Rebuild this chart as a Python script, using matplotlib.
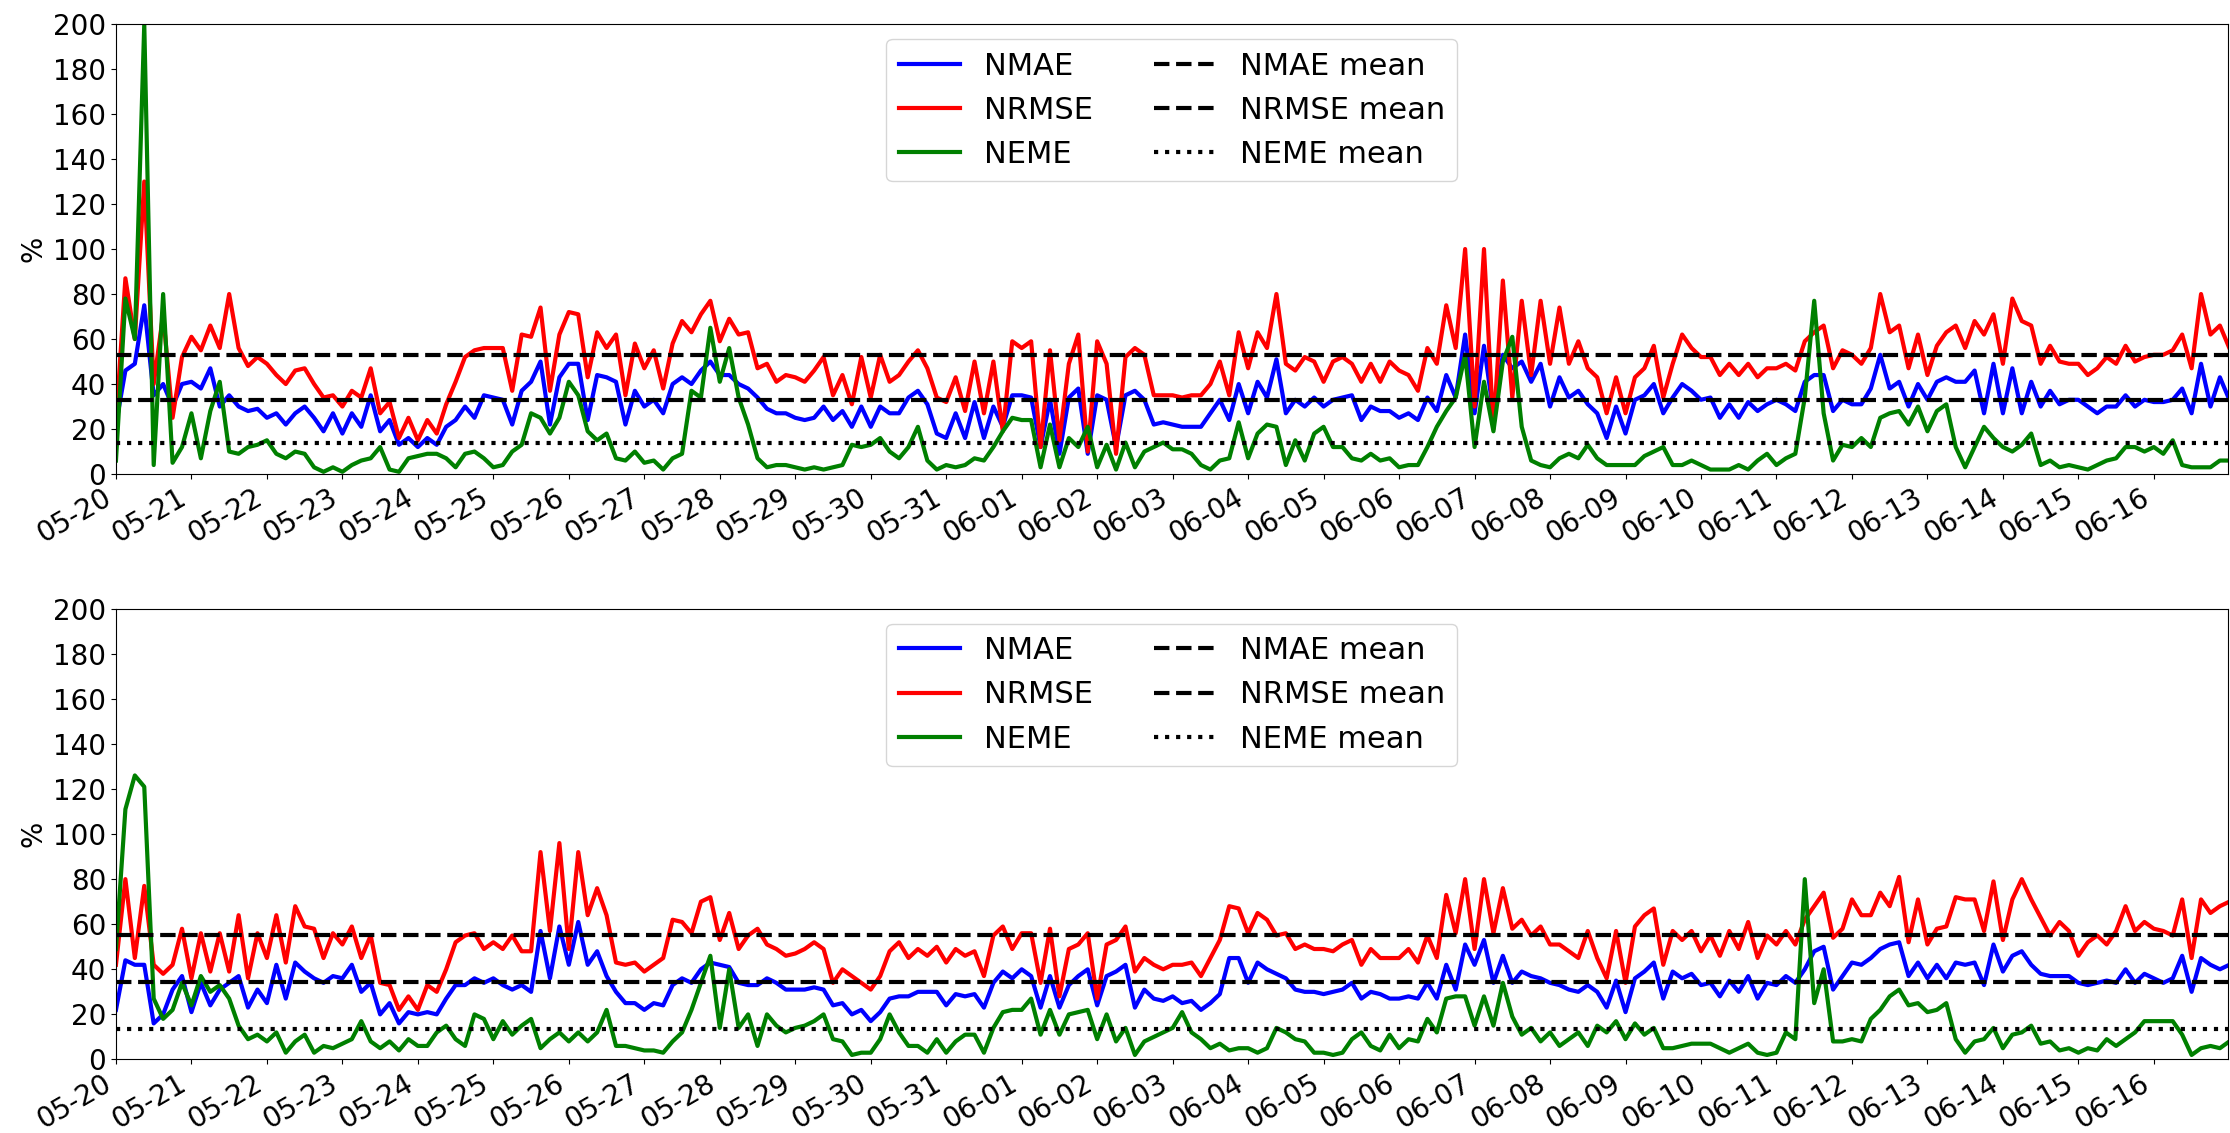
import matplotlib
matplotlib.use("Agg")
import matplotlib.pyplot as plt
import matplotlib.dates as mdates
import pandas as pd

# 3-hourly values, 05-20 00:00 .. 06-17 00:00
START = "2019-05-20"
STEP = "3h"

top_nmae = [
    22, 46, 49, 75, 35, 40, 30, 40,  41, 38, 47, 30, 35, 30, 28, 29,
    25, 27, 22, 27, 30, 25, 19, 27,  18, 27, 21, 35, 19, 24, 13, 16,
    12, 16, 13, 21, 24, 30, 25, 35,  34, 33, 22, 37, 41, 50, 22, 43,
    49, 49, 24, 44, 43, 41, 22, 37,  30, 33, 27, 40, 43, 40, 46, 50,
    44, 44, 40, 38, 34, 29, 27, 27,  25, 24, 25, 30, 24, 28, 21, 30,
    21, 30, 27, 27, 34, 37, 31, 18,  16, 27, 16, 32, 16, 30, 21, 35,
    35, 34, 12, 33, 9, 34, 38, 9,    35, 33, 12, 35, 37, 33, 22, 23,
    22, 21, 21, 21, 27, 33, 24, 40,  27, 41, 34, 51, 27, 33, 30, 34,
    30, 33, 34, 35, 24, 30, 28, 28,  25, 27, 24, 34, 28, 44, 34, 62,
    27, 57, 27, 53, 47, 50, 41, 49,  30, 43, 34, 37, 31, 27, 16, 30,
    18, 33, 35, 40, 27, 34, 40, 37,  33, 34, 25, 31, 25, 32, 28, 31,
    33, 31, 28, 41, 44, 44, 28, 33,  31, 31, 38, 53, 38, 41, 30, 40,
    33, 41, 43, 41, 41, 46, 27, 49,  27, 47, 27, 41, 30, 37, 31, 33,
    33, 30, 27, 30, 30, 35, 30, 33,  32, 32, 33, 38, 27, 49, 30, 43,
    33,
]
top_nrmse = [
    22, 87, 60, 130, 40, 71, 25, 52,  61, 55, 66, 56, 80, 56, 48, 52,
    49, 44, 40, 46, 47, 40, 34, 35,   30, 37, 34, 47, 27, 32, 16, 25,
    15, 24, 18, 31, 41, 52, 55, 56,   56, 56, 37, 62, 61, 74, 37, 62,
    72, 71, 43, 63, 56, 62, 35, 58,   47, 55, 38, 58, 68, 63, 71, 77,
    59, 69, 62, 63, 47, 49, 41, 44,   43, 41, 46, 52, 35, 44, 31, 52,
    34, 53, 41, 44, 50, 55, 47, 34,   32, 43, 28, 50, 27, 50, 19, 59,
    56, 59, 12, 55, 15, 49, 62, 10,   59, 49, 9, 52, 56, 53, 35, 35,
    35, 34, 35, 35, 40, 50, 35, 63,   47, 63, 56, 80, 49, 46, 52, 50,
    41, 50, 52, 49, 41, 49, 41, 50,   46, 44, 37, 56, 49, 75, 56, 100,
    30, 100, 20, 86, 34, 77, 44, 77,  49, 74, 49, 59, 47, 43, 27, 43,
    27, 43, 47, 57, 34, 49, 62, 56,   52, 52, 44, 49, 44, 49, 43, 47,
    47, 49, 46, 59, 63, 66, 47, 55,   53, 49, 56, 80, 63, 66, 47, 62,
    44, 57, 63, 66, 56, 68, 62, 71,   49, 78, 68, 66, 49, 57, 50, 49,
    49, 44, 47, 52, 49, 57, 50, 52,   53, 53, 55, 62, 47, 80, 62, 66,
    56,
]
top_neme = [
    6, 78, 60, 200, 4, 80, 5, 12,  27, 7, 28, 41, 10, 9, 12, 13,
    15, 9, 7, 10, 9, 3, 1, 3,      1, 4, 6, 7, 12, 2, 1, 7,
    8, 9, 9, 7, 3, 9, 10, 7,       3, 4, 10, 13, 27, 25, 18, 25,
    41, 35, 19, 15, 18, 7, 6, 10,  5, 6, 2, 7, 9, 37, 34, 65,
    41, 56, 34, 22, 7, 3, 4, 4,    3, 2, 3, 2, 3, 4, 13, 12,
    13, 16, 10, 7, 12, 21, 6, 2,   4, 3, 4, 7, 6, 12, 19, 25,
    24, 24, 3, 22, 3, 16, 12, 21,  3, 13, 2, 14, 3, 10, 12, 14,
    11, 11, 9, 4, 2, 6, 7, 23,     7, 18, 22, 21, 4, 15, 6, 18,
    21, 12, 12, 7, 6, 9, 6, 7,     3, 4, 4, 12, 21, 28, 34, 53,
    12, 41, 19, 50, 61, 21, 6, 4,  3, 7, 9, 7, 13, 7, 4, 4,
    4, 4, 8, 10, 12, 4, 4, 6,      4, 2, 2, 2, 4, 2, 6, 9,
    4, 7, 9, 34, 77, 27, 6, 13,    12, 16, 12, 25, 27, 28, 22, 30,
    19, 28, 31, 12, 3, 12, 21, 16, 12, 10, 13, 18, 4, 6, 3, 4,
    3, 2, 4, 6, 7, 12, 12, 10,     12, 9, 15, 4, 3, 3, 3, 6,
    6,
]

bot_nmae = [
    22, 44, 42, 42, 16, 20, 31, 37,  21, 34, 24, 31, 34, 37, 23, 31,
    25, 42, 27, 43, 39, 36, 34, 37,  36, 42, 30, 34, 20, 25, 16, 21,
    20, 21, 20, 27, 33, 33, 36, 34,  36, 33, 31, 33, 30, 57, 36, 59,
    42, 61, 42, 48, 37, 30, 25, 25,  22, 25, 24, 33, 36, 34, 40, 43,
    42, 41, 34, 33, 33, 36, 34, 31,  31, 31, 32, 31, 24, 25, 20, 22,
    17, 21, 27, 28, 28, 30, 30, 30,  24, 29, 28, 29, 23, 34, 39, 36,
    40, 37, 23, 37, 23, 33, 37, 40,  24, 37, 39, 42, 23, 31, 27, 26,
    28, 25, 26, 22, 25, 29, 45, 45,  34, 43, 40, 38, 36, 31, 30, 30,
    29, 30, 31, 34, 27, 30, 29, 27,  27, 28, 27, 34, 27, 42, 31, 51,
    42, 53, 34, 46, 34, 39, 37, 36,  34, 33, 31, 30, 33, 30, 23, 35,
    21, 36, 39, 43, 27, 39, 36, 38,  33, 34, 28, 35, 30, 37, 27, 34,
    33, 37, 34, 40, 48, 50, 31, 37,  43, 42, 45, 49, 51, 52, 37, 43,
    36, 42, 36, 43, 42, 43, 33, 51,  39, 46, 48, 42, 38, 37, 37, 37,
    34, 33, 34, 35, 34, 40, 34, 38,  36, 34, 36, 46, 30, 45, 42, 40,
    42,
]
bot_nrmse = [
    42, 80, 45, 77, 42, 38, 42, 58,  36, 56, 39, 56, 39, 64, 36, 56,
    45, 64, 43, 68, 59, 58, 45, 56,  51, 59, 45, 55, 34, 33, 22, 28,
    22, 33, 30, 40, 52, 55, 56, 49,  52, 49, 55, 48, 48, 92, 57, 96,
    49, 92, 64, 76, 64, 43, 42, 43,  39, 42, 45, 62, 61, 56, 70, 72,
    53, 65, 49, 55, 58, 51, 49, 46,  47, 49, 52, 49, 34, 40, 37, 34,
    31, 37, 48, 52, 45, 49, 46, 50,  43, 49, 46, 48, 37, 55, 59, 49,
    56, 56, 34, 58, 28, 49, 51, 56,  27, 51, 53, 59, 39, 45, 42, 40,
    42, 42, 43, 37, 45, 53, 68, 67,  56, 65, 62, 55, 56, 49, 51, 49,
    49, 48, 51, 53, 42, 49, 45, 45,  45, 49, 43, 55, 45, 73, 56, 80,
    49, 80, 56, 76, 58, 62, 55, 59,  51, 51, 48, 45, 57, 45, 36, 57,
    34, 59, 64, 67, 42, 57, 53, 57,  48, 55, 46, 57, 49, 61, 45, 55,
    51, 57, 51, 62, 68, 74, 54, 58,  71, 64, 64, 74, 68, 81, 52, 71,
    51, 58, 59, 72, 71, 71, 57, 79,  53, 71, 80, 71, 63, 55, 61, 57,
    46, 52, 55, 51, 57, 68, 57, 61,  58, 57, 55, 71, 45, 71, 65, 68,
    70,
]
bot_neme = [
    49, 111, 126, 121, 27, 18, 22, 34,  24, 37, 30, 33, 27, 15, 9, 11,
    8, 12, 3, 8, 11, 3, 6, 5,           7, 9, 17, 8, 5, 8, 4, 9,
    6, 6, 12, 15, 9, 6, 20, 18,         9, 17, 11, 15, 18, 5, 9, 12,
    8, 12, 8, 12, 22, 6, 6, 5,          4, 4, 3, 8, 12, 22, 34, 46,
    14, 40, 14, 20, 6, 20, 15, 12,      14, 15, 17, 20, 9, 8, 2, 3,
    3, 9, 20, 12, 6, 6, 3, 9,           3, 8, 11, 11, 3, 14, 21, 22,
    22, 27, 11, 22, 11, 20, 21, 22,     9, 20, 8, 14, 2, 8, 10, 12,
    14, 21, 12, 9, 5, 7, 4, 5,          5, 3, 5, 14, 12, 9, 8, 3,
    3, 2, 3, 9, 12, 6, 4, 11,           5, 9, 8, 18, 12, 27, 28, 28,
    15, 28, 15, 34, 19, 11, 14, 8,      12, 6, 9, 12, 6, 15, 12, 17,
    9, 16, 11, 14, 5, 5, 6, 7,          7, 7, 5, 3, 5, 7, 3, 2,
    3, 12, 9, 80, 25, 40, 8, 8,         9, 8, 18, 22, 28, 31, 24, 25,
    21, 22, 25, 9, 3, 8, 9, 14,         5, 11, 12, 15, 7, 8, 4, 5,
    3, 5, 4, 9, 6, 9, 12, 17,           17, 17, 17, 11, 2, 5, 6, 5,
    8,
]

# horizontal mean levels (NMAE, NRMSE, NEME)
top_means = [33.0, 52.7, 13.6]
bot_means = [34.4, 55.3, 13.3]


def draw(ax, nmae, nrmse, neme, means):
    t = pd.date_range(START, periods=len(nmae), freq=STEP)
    ax.plot(t, nmae, color="blue", lw=3, label="NMAE")
    ax.plot(t, nrmse, color="red", lw=3, label="NRMSE")
    ax.plot(t, neme, color="green", lw=3, label="NEME")
    ax.axhline(means[0], color="black", ls="--", lw=3, label="NMAE mean")
    ax.axhline(means[1], color="black", ls="--", lw=3, label="NRMSE mean")
    ax.axhline(means[2], color="black", ls=":", lw=3, label="NEME mean")
    ax.set_ylim(0, 200)
    ax.set_yticks(range(0, 201, 20))
    # series stops just short of midnight, so no 06-17 tick
    ax.set_xlim(t[0], t[-1] - pd.Timedelta("30min"))
    ax.xaxis.set_major_locator(mdates.DayLocator())
    ax.xaxis.set_major_formatter(mdates.DateFormatter("%m-%d"))
    ax.tick_params(labelsize=20)
    plt.setp(ax.get_xticklabels(), rotation=30, ha="right")
    ax.set_ylabel("%", fontsize=20)
    ax.legend(loc="upper center", ncol=2, fontsize=22)


fig = plt.figure(figsize=(22.30, 11.33), dpi=100)
ax1 = fig.add_axes([0.052, 0.5816, 0.947, 0.3972])
ax2 = fig.add_axes([0.052, 0.0649, 0.947, 0.3979])
draw(ax1, top_nmae, top_nrmse, top_neme, top_means)
draw(ax2, bot_nmae, bot_nrmse, bot_neme, bot_means)
fig.savefig("out.png", dpi=100)
